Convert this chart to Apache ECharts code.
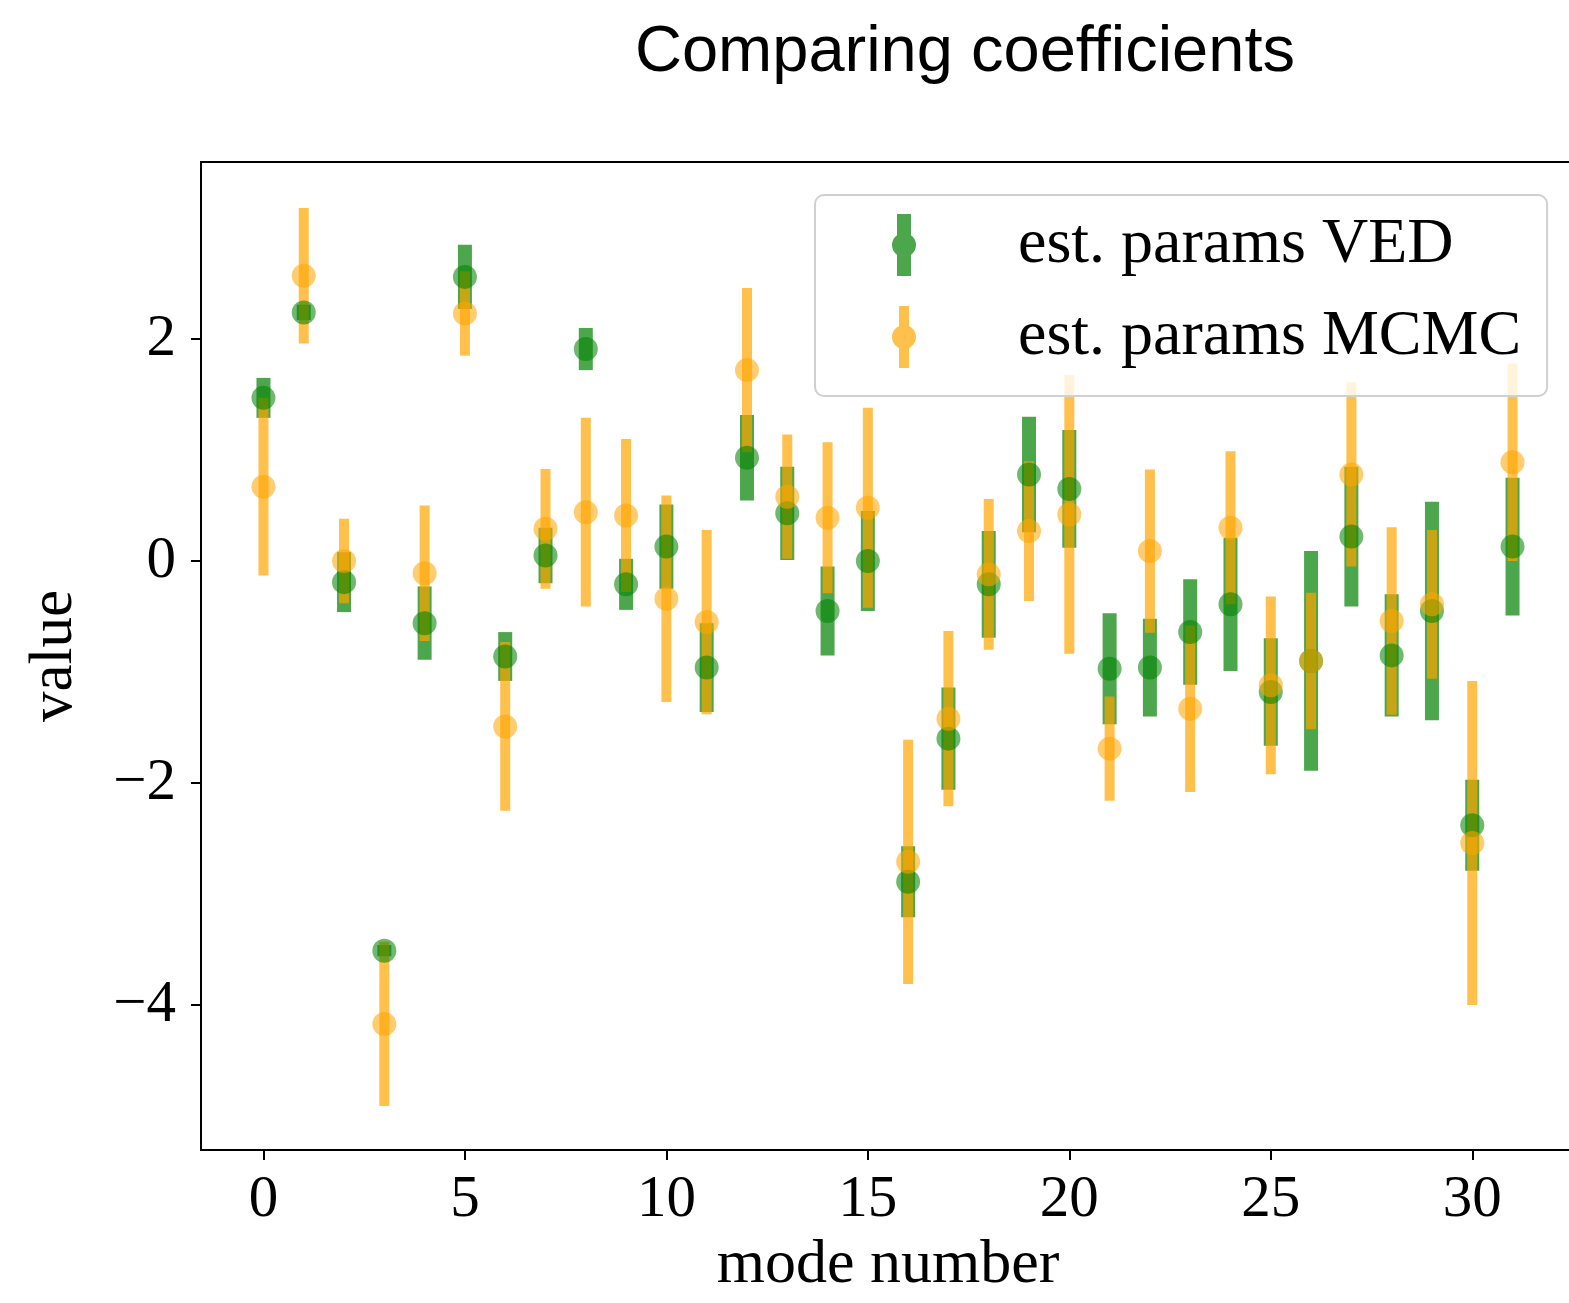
<!DOCTYPE html>
<html>
<head>
<meta charset="utf-8">
<script src="https://cdn.jsdelivr.net/npm/echarts@6/dist/echarts.min.js"></script>
<style>
  html, body { margin: 0; padding: 0; background: #ffffff; }
  #chart { width: 1569px; height: 1303px; }
</style>
</head>
<body>
<div id="chart"></div>
<script>
// ---- data ----
const modes = [0, 1, 2, 3, 4, 5, 6, 7, 8, 9, 10, 11, 12, 13, 14, 15,
               16, 17, 18, 19, 20, 21, 22, 23, 24, 25, 26, 27, 28, 29, 30, 31];

const vedValues = [1.47, 2.24, -0.19, -3.51, -0.56, 2.56, -0.86, 0.05, 1.91, -0.21, 0.13, -0.96, 0.93, 0.43, -0.45, 0.00,
                   -2.89, -1.60, -0.21, 0.78, 0.65, -0.97, -0.96, -0.64, -0.39, -1.18, -0.90, 0.22, -0.85, -0.45, -2.38, 0.13];
const vedErrors = [0.18, 0.07, 0.27, 0.05, 0.33, 0.29, 0.22, 0.25, 0.19, 0.23, 0.38, 0.40, 0.385, 0.42, 0.40, 0.45,
                   0.32, 0.46, 0.48, 0.52, 0.53, 0.50, 0.44, 0.475, 0.60, 0.485, 0.99, 0.63, 0.55, 0.985, 0.41, 0.62];

const mcmcValues = [0.67, 2.57, 0.00, -4.17, -0.11, 2.23, -1.49, 0.29, 0.44, 0.41, -0.34, -0.55, 1.72, 0.58, 0.39, 0.48,
                    -2.71, -1.42, -0.12, 0.27, 0.42, -1.69, 0.09, -1.33, 0.30, -1.12, -0.90, 0.78, -0.54, -0.39, -2.54, 0.89];
const mcmcErrors = [0.80, 0.61, 0.38, 0.74, 0.61, 0.38, 0.76, 0.54, 0.85, 0.69, 0.93, 0.83, 0.74, 0.56, 0.68, 0.90,
                    1.10, 0.79, 0.68, 0.63, 1.255, 0.47, 0.735, 0.75, 0.69, 0.80, 0.615, 0.83, 0.845, 0.67, 1.46, 0.89];

const xTickValues = [0, 5, 10, 15, 20, 25, 30];
const yTickValues = [-4, -2, 0, 2];

const seriesNames = ['est. params VED', 'est. params MCMC'];
const titleText = 'Comparing coefficients';
const xAxisName = 'mode number';
const yAxisName = 'value';

// ---- styles ----
const GREEN = 'rgba(0,128,0,0.7)';
const ORANGE = 'rgba(255,165,0,0.7)';
const SERIF = '"Liberation Serif", "DejaVu Serif", serif';

function barData(values, errors) {
  return modes.map((m, i) => [m, values[i] - errors[i], values[i] + errors[i]]);
}
function pointData(values) {
  return modes.map((m, i) => [m, values[i]]);
}
function barRenderer(width, color) {
  return function (params, api) {
    const top = api.coord([api.value(0), api.value(2)]);
    const bot = api.coord([api.value(0), api.value(1)]);
    return {
      type: 'rect',
      shape: { x: top[0] - width / 2, y: top[1], width: width, height: bot[1] - top[1] },
      style: { fill: color }
    };
  };
}
const minusFmt = v => (v < 0 ? '\u2212' + Math.abs(v) : String(v));

const iconGreen = 'path://M5,0 L19,0 L19,62 L5,62 Z M24,31 A12,12 0 1,1 0,31 A12,12 0 1,1 24,31 Z';
const iconOrange = 'path://M7,0 L17,0 L17,62 L7,62 Z M24,31 A12,12 0 1,1 0,31 A12,12 0 1,1 24,31 Z';

const chart = echarts.init(document.getElementById('chart'), null, { renderer: 'canvas' });
chart.setOption({
  animation: false,
  backgroundColor: '#ffffff',
  title: {
    text: titleText,
    left: 630,
    top: 16,
    textStyle: { fontFamily: '"Liberation Sans", Arial, sans-serif', fontSize: 65, fontWeight: 'normal', color: '#000' }
  },
  grid: {
    left: 201, top: 162, width: 1374, height: 988,
    outerBoundsMode: 'none',
    show: true, borderColor: '#000', borderWidth: 2, backgroundColor: 'transparent',
    containLabel: false
  },
  legend: {
    orient: 'vertical',
    left: 815, top: 195,
    padding: [18, 26, 27, 77],
    itemWidth: 24, itemHeight: 62, itemGap: 28,
    backgroundColor: 'rgba(255,255,255,0.8)',
    borderColor: '#d0d0d0', borderWidth: 2, borderRadius: 9,
    formatter: name => '{gap|}' + name,
    textStyle: {
      fontFamily: SERIF, fontSize: 64, color: '#000',
      rich: { gap: { width: 97 } }
    },
    data: [
      { name: seriesNames[0], icon: iconGreen, itemStyle: { color: GREEN } },
      { name: seriesNames[1], icon: iconOrange, itemStyle: { color: ORANGE } }
    ]
  },
  xAxis: {
    type: 'value',
    min: -1.55, max: 32.55,
    name: xAxisName, nameLocation: 'middle', nameGap: 80,
    nameTextStyle: { fontFamily: SERIF, fontSize: 62, color: '#000' },
    axisLine: { show: true, onZero: false, lineStyle: { color: '#000', width: 2 } },
    axisTick: { show: true, inside: false, length: 10, customValues: xTickValues, lineStyle: { color: '#000', width: 2 } },
    axisLabel: { customValues: xTickValues, margin: 21, fontFamily: SERIF, fontSize: 59, color: '#000', formatter: minusFmt },
    splitLine: { show: false }
  },
  yAxis: {
    type: 'value',
    min: -5.306, max: 3.595,
    name: yAxisName, nameLocation: 'middle', nameGap: 116,
    nameTextStyle: { fontFamily: SERIF, fontSize: 61, color: '#000' },
    axisLine: { show: true, onZero: false, lineStyle: { color: '#000', width: 2 } },
    axisTick: { show: true, inside: false, length: 10, customValues: yTickValues, lineStyle: { color: '#000', width: 2 } },
    axisLabel: { customValues: yTickValues, margin: 25, fontFamily: SERIF, fontSize: 59, color: '#000', formatter: minusFmt },
    splitLine: { show: false }
  },
  series: [
    {
      name: seriesNames[0], type: 'custom', z: 1,
      renderItem: barRenderer(14, GREEN),
      itemStyle: { color: GREEN },
      encode: { x: 0, y: [1, 2] },
      data: barData(vedValues, vedErrors)
    },
    {
      name: seriesNames[1], type: 'custom', z: 1,
      renderItem: barRenderer(10, ORANGE),
      itemStyle: { color: ORANGE },
      encode: { x: 0, y: [1, 2] },
      data: barData(mcmcValues, mcmcErrors)
    },
    {
      name: seriesNames[0], type: 'scatter', z: 2,
      symbol: 'circle', symbolSize: 24,
      itemStyle: { color: GREEN },
      emphasis: { disabled: true },
      data: pointData(vedValues)
    },
    {
      name: seriesNames[1], type: 'scatter', z: 2,
      symbol: 'circle', symbolSize: 24,
      itemStyle: { color: ORANGE },
      emphasis: { disabled: true },
      data: pointData(mcmcValues)
    }
  ]
});
</script>
</body>
</html>
